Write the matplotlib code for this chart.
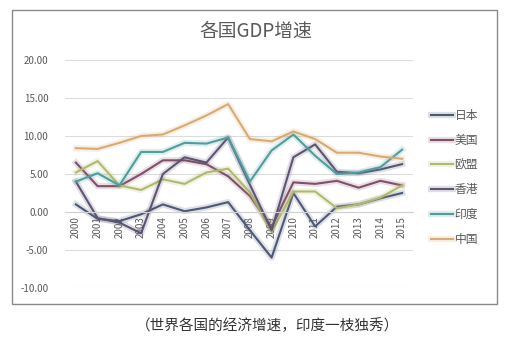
import numpy as np
import matplotlib
matplotlib.use("Agg")
import matplotlib.pyplot as plt
import matplotlib.patheffects as pe
from matplotlib.patches import Rectangle

plt.rcParams['font.family'] = ['Noto Sans CJK SC', 'DejaVu Sans']

years = [str(y) for y in range(2000, 2016)]
japan = [1.0, -0.9, -1.2, -0.3, 1.0, 0.1, 0.6, 1.3, -2.4, -6.0, 2.5, -1.9, 0.7, 1.0, 1.8, 2.5]
usa = [6.5, 3.4, 3.4, 5.0, 6.8, 6.8, 6.3, 4.7, 2.1, -2.0, 3.9, 3.7, 4.1, 3.2, 4.1, 3.5]
eu = [5.2, 6.7, 3.5, 2.9, 4.3, 3.7, 5.2, 5.7, 2.6, -2.6, 2.7, 2.7, 0.5, 1.0, 1.9, 3.5]
hk = [4.0, -0.8, -1.4, -2.8, 5.0, 7.2, 6.5, 9.8, 3.6, -2.4, 7.2, 8.9, 5.3, 5.1, 5.6, 6.3]
india = [4.0, 5.1, 3.5, 7.9, 7.9, 9.1, 9.0, 9.8, 4.0, 8.1, 10.2, 7.4, 5.0, 5.2, 5.9, 8.2]
china = [8.4, 8.3, 9.1, 10.0, 10.2, 11.4, 12.7, 14.2, 9.6, 9.3, 10.6, 9.6, 7.8, 7.8, 7.3, 7.0]

names = ['日本', '美国', '欧盟', '香港', '印度', '中国']
series = [japan, usa, eu, hk, india, china]
colors = ['#4b5876', '#80506a', '#b1b96c', '#5d5372', '#4f9d9e', '#d7ab72']

fig = plt.figure(figsize=(5.05, 3.41), dpi=100)
fig.patch.set_facecolor('white')

# outer chart border
fig.patches.append(Rectangle((12 / 505, 1 - 304 / 341), 485 / 505, 294 / 341,
                             transform=fig.transFigure, fill=False,
                             edgecolor='#8a8a8a', linewidth=1.0))

ax = fig.add_axes([65 / 505, 53 / 341, 348 / 505, 228 / 341])
x = np.arange(len(years))

for vals, name, col in zip(series, names, colors):
    ax.plot(x, vals, color=col, linewidth=1.5, label=name,
            path_effects=[pe.Stroke(linewidth=4.5, foreground=col, alpha=0.18), pe.Normal()])

ax.set_xlim(-0.5, len(years) - 0.5)
ax.set_ylim(-10, 20)
ax.set_yticks(np.arange(-10, 21, 5))
ax.set_yticklabels([f'{v:.2f}' for v in np.arange(-10, 21, 5)])
ax.yaxis.grid(True, color='#dcdcdc', linewidth=0.8)
ax.set_axisbelow(True)

ax.set_xticks(x)
ax.set_xticklabels(years)
ax.spines['bottom'].set_position(('data', 0))
ax.spines['bottom'].set_color('#d0d0d0')
for s in ['top', 'right', 'left']:
    ax.spines[s].set_visible(False)
ax.tick_params(axis='both', length=0, labelsize=7, labelcolor='#595959')
ax.tick_params(axis='x', pad=3, labelrotation=90)
ax.tick_params(axis='y', pad=12)

fig.text(256 / 505, 1 - 31 / 341, '各国GDP增速', ha='center', va='center',
         fontsize=13.5, color='#595959')

leg = ax.legend(loc='upper left', bbox_to_anchor=(431 / 505, 1 - 109 / 341),
                bbox_transform=fig.transFigure, frameon=False, fontsize=8.5,
                handlelength=1.9, handletextpad=0.1, labelspacing=1.0,
                borderaxespad=0, borderpad=0)
for t in leg.get_texts():
    t.set_color('#595959')

fig.text(268 / 505, 1 - 326 / 341, '（世界各国的经济增速，印度一枝独秀）', ha='center',
         va='center', fontsize=10.5, color='#333333')

fig.savefig('out.png', dpi=100)
